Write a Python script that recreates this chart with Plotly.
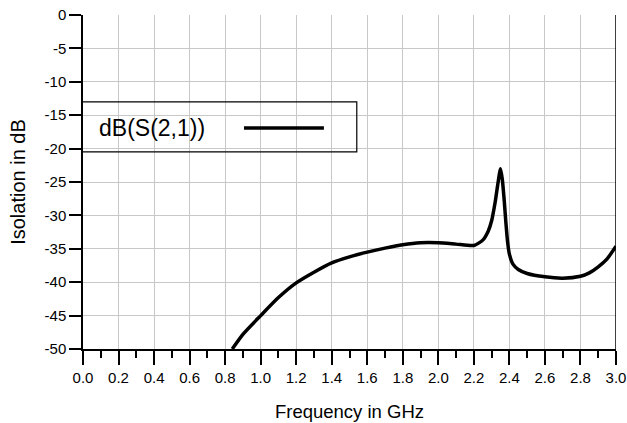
import plotly.graph_objects as go

freq_ghz = [0.84, 0.9, 1.0, 1.1, 1.2, 1.3, 1.4, 1.5, 1.6, 1.7, 1.8, 1.9, 2.0, 2.1, 2.2,
            2.25, 2.28, 2.3, 2.32, 2.335, 2.35, 2.36, 2.37, 2.38, 2.39, 2.40, 2.42,
            2.45, 2.5, 2.6, 2.7, 2.8, 2.85, 2.9, 2.95, 3.0]
s21_db = [-50.0, -47.8, -45.0, -42.3, -40.1, -38.5, -37.1, -36.2, -35.5, -34.9, -34.4, -34.1,
          -34.1, -34.3, -34.5, -33.7, -32.4, -30.8, -28.0, -25.3, -23.0, -24.6, -27.5, -31.0,
          -34.0, -35.8, -37.3, -38.1, -38.7, -39.2, -39.4, -39.1, -38.6, -37.7, -36.5, -34.6]

x_ticks = [round(0.2 * i, 1) for i in range(16)]
x_labels = [f"{v:.1f}" for v in x_ticks]
y_ticks = list(range(-50, 1, 5))
y_labels = [str(v) for v in y_ticks]
legend_label = "dB(S(2,1))"

FONT = "Liberation Sans, Arial, sans-serif"

fig = go.Figure()
fig.add_trace(go.Scatter(x=freq_ghz, y=s21_db, mode="lines",
                         line=dict(color="black", width=3.5, shape="spline", smoothing=0.6),
                         showlegend=False, cliponaxis=True))

fig.update_layout(
    width=627, height=423,
    margin=dict(l=83, r=11, t=15, b=74),
    paper_bgcolor="white", plot_bgcolor="white",
    font=dict(family=FONT, color="black"),
    showlegend=False,
)
fig.update_xaxes(
    range=[0, 3.0], tickvals=x_ticks, ticktext=x_labels, automargin=False,
    ticks="outside", ticklen=14, tickwidth=1.5, tickcolor="black",
    showline=True, linecolor="black", linewidth=1.5,
    showgrid=True, gridcolor="#c8c8c8", gridwidth=1.2,
    zeroline=False, tickfont=dict(size=15),
    minor=dict(dtick=0.1, tick0=0, ticks="outside", ticklen=7, tickwidth=1.5,
               tickcolor="black", showgrid=False),
    title=dict(text="Frequency in GHz", font=dict(size=18.5), standoff=20),
)
fig.update_yaxes(
    range=[-50, 0], tickvals=y_ticks, ticktext=y_labels, automargin=False,
    ticks="outside", ticklen=12, tickwidth=1.5, tickcolor="black",
    showline=True, linecolor="black", linewidth=1.5,
    showgrid=True, gridcolor="#c8c8c8", gridwidth=1.2,
    zeroline=False, tickfont=dict(size=15),
    title=dict(text="Isolation in dB", font=dict(size=20), standoff=14),
)

# right border of plot area
fig.add_shape(type="line", xref="x", yref="y", x0=3.0, x1=3.0, y0=-50, y1=0,
              line=dict(color="black", width=1.5))
# legend box (text left, line sample right)
fig.add_shape(type="rect", xref="x", yref="y", x0=-0.006, x1=1.541, y0=-13.0, y1=-20.5,
              line=dict(color="black", width=1.2), fillcolor="rgba(0,0,0,0)")
fig.add_shape(type="line", xref="x", yref="y", x0=0.906, x1=1.356, y0=-16.9, y1=-16.9,
              line=dict(color="black", width=3.5))
fig.add_annotation(x=0.079, y=-16.9, xref="x", yref="y", text=legend_label,
                   showarrow=False, xanchor="left", yanchor="middle",
                   font=dict(size=23, family=FONT, color="black"))

fig.write_html("out.html")
